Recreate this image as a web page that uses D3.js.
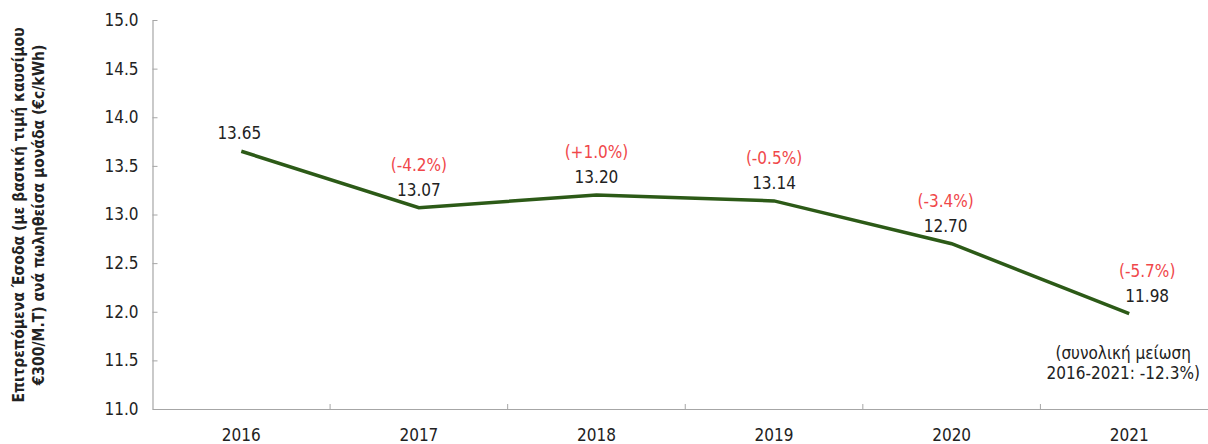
<!DOCTYPE html>
<html><head><meta charset="utf-8">
<script src="https://cdn.jsdelivr.net/npm/d3@7"></script>
<style>body{margin:0;background:#fff}svg{display:block}</style>
</head><body>
<svg id="c" width="1208" height="444"></svg>
<script>
const years = ["2016","2017","2018","2019","2020","2021"];
const values = [13.65, 13.07, 13.20, 13.14, 12.70, 11.98];
const changes = [null, "(-4.2%)", "(+1.0%)", "(-0.5%)", "(-3.4%)", "(-5.7%)"];
const yTicks = [11.0, 11.5, 12.0, 12.5, 13.0, 13.5, 14.0, 14.5, 15.0];
const yTitle = ["Επιτρεπόμενα Έσοδα (με βασική τιμή καυσίμου", "€300/M.T) ανά πωληθείσα μονάδα (€c/kWh)"];
const note = ["(συνολική μείωση", "2016-2021: -12.3%)"];

const FONT = "'Liberation Sans Narrow','DejaVu Sans Condensed','Roboto',sans-serif";
const svg = d3.select("#c");
const x = d3.scaleBand().domain(years).range([152.5, 1218]);
const y = d3.scaleLinear().domain([11, 15]).range([409, 20]);
const labelShift = [-2, 0, 0, 0, -6, 18];

const gy = svg.append("g").attr("transform","translate(152.5,0)")
  .call(d3.axisLeft(y).tickValues(yTicks).tickFormat(d3.format(".1f")).tickSizeInner(-5).tickSizeOuter(0).tickPadding(14));
const gx = svg.append("g").attr("transform","translate(0,409)")
  .call(d3.axisBottom(x).tickSize(0).tickPadding(20));
svg.append("g").selectAll("line").data(years.slice(1)).join("line")
  .attr("x1", d=>x(d)).attr("x2", d=>x(d)).attr("y1",409).attr("y2",404)
  .attr("stroke","#a6a6a6").attr("stroke-width",1);
[gy,gx].forEach(g=>{
  g.selectAll(".domain").attr("stroke","#a6a6a6").attr("stroke-width",1.2);
  g.selectAll(".tick line").attr("stroke","#a6a6a6");
  g.selectAll("text").attr("font-family",FONT).attr("font-size",17).attr("fill","#222");
});

const line = d3.line().x((d,i)=>x(years[i])+x.bandwidth()/2).y(d=>y(d));
svg.append("path").datum(values).attr("d",line).attr("fill","none")
  .attr("stroke","#2c5a17").attr("stroke-width",3.5).attr("stroke-linejoin","miter");

svg.append("g").selectAll("text").data(values).join("text")
  .attr("x",(d,i)=>x(years[i])+x.bandwidth()/2 + labelShift[i])
  .attr("y",d=>y(d)-12).attr("text-anchor","middle")
  .attr("font-family",FONT).attr("font-size",17).attr("fill","#222")
  .text(d=>d.toFixed(2));
svg.append("g").selectAll("text").data(changes).join("text")
  .attr("x",(d,i)=>x(years[i])+x.bandwidth()/2 + labelShift[i])
  .attr("y",(d,i)=>y(values[i])-37).attr("text-anchor","middle")
  .attr("font-family",FONT).attr("font-size",17).attr("fill","#f0474a")
  .text(d=>d||"");

const nx = x("2021")+x.bandwidth()/2 - 6;
svg.append("text").attr("x", nx).attr("y",359)
  .attr("text-anchor","middle").attr("font-family",FONT).attr("font-size",17).attr("fill","#222")
  .selectAll("tspan").data(note).join("tspan")
  .attr("x", nx).attr("dy",(d,i)=>i?20:0).text(d=>d);

const t = svg.append("text").attr("transform","translate(24,215) rotate(-90)")
  .attr("text-anchor","middle").attr("font-family",FONT).attr("font-size",15.5)
  .attr("font-weight","bold").attr("fill","#222");
t.selectAll("tspan").data(yTitle).join("tspan").attr("x",0).attr("dy",(d,i)=>i?20:0).text(d=>d);
</script>
</body></html>
